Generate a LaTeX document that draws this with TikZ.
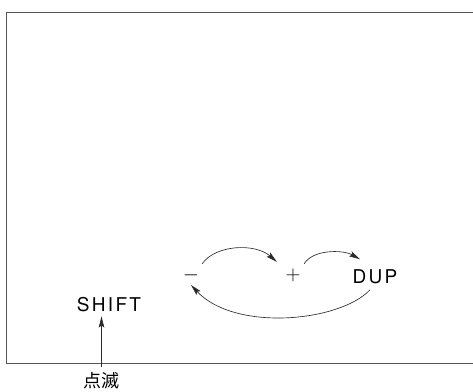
\documentclass[tikz,border=0pt]{standalone}
\usepackage{fontspec}
\usetikzlibrary{arrows.meta}
\newfontfamily\keyfont[LetterSpace=12]{TeX Gyre Heros}
\newfontfamily\cjkfont{Noto Sans CJK JP}
\definecolor{ink}{HTML}{2A2A2A}
\begin{document}
\begin{tikzpicture}[x=1pt,y=-1pt,
  keylabel/.style={inner sep=0pt,text=black,font=\keyfont\fontsize{19}{19}\selectfont},
  oplabel/.style={inner sep=0pt,minimum width=22pt,minimum height=22pt,text=black,
                  font=\fontsize{21}{21}\selectfont},
  note/.style={inner sep=0pt,text=black,font=\cjkfont\fontsize{18}{18}\selectfont},
  frameline/.style={draw=ink!80,line width=0.8pt},
  arr/.style={draw=ink,line width=0.65pt,-{Stealth[length=11pt,width=5.5pt,inset=2pt]}}]
  \useasboundingbox (0,0) rectangle (473,391);

  % open frame of the display (right side runs off the edge)
  \draw[frameline] (473,12) -- (6,12) -- (6,363) -- (473,363);

  % stack items
  \node[oplabel] (minus) at (191,275) {$-$};
  \node[oplabel] (plus)  at (293,275) {$+$};
  \node[keylabel] (dup)  at (375,276.5) {DUP};
  \node[keylabel] (shift) at (109,305) {SHIFT};
  \node[note] (blink) at (101.5,381) {点滅};

  % cycle between the items
  \draw[arr] (minus.north east) .. controls +(13,-19) and +(-22,-19) .. ([xshift=-5pt,yshift=2pt]plus.north west);
  \draw[arr] (plus.north east) .. controls +(8,-14) and +(-18,-10) .. ([xshift=-15pt,yshift=10pt]dup.north);
  \draw[arr] ([xshift=-5pt,yshift=-6pt]dup.south) .. controls +(-30,32) and +(44,47) .. ([yshift=-10pt]minus.center);

  % blinking indicator under SHIFT
  \draw[arr] ([yshift=6pt]blink.north) -- ([yshift=-4pt]blink.north |- shift.south);
\end{tikzpicture}
\end{document}
